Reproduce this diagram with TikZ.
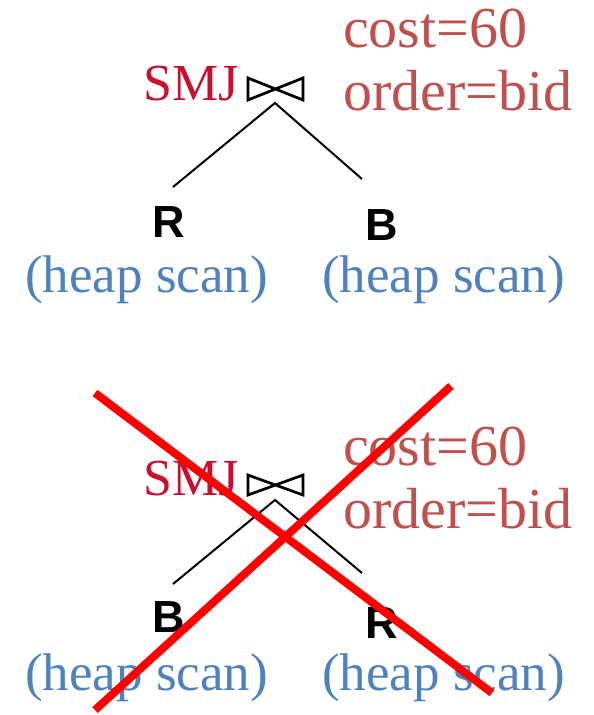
\documentclass[tikz,border=0pt]{standalone}
\usepackage{fontspec}
\setmainfont{Liberation Serif}
\newfontfamily\sansf{Liberation Sans}
\definecolor{smjred}{RGB}{200,16,46}
\definecolor{costred}{RGB}{192,80,77}
\definecolor{scanblue}{RGB}{79,129,189}
\begin{document}
\begin{tikzpicture}[x=1pt,y=-1pt,
  smj/.style={text=smjred, font=\fontsize{52}{60}\selectfont, anchor=base west, inner sep=0pt},
  cost/.style={text=costred, font=\fontsize{58}{60}\selectfont, anchor=base west, inner sep=0pt},
  rel/.style={font=\sansf\bfseries\fontsize{45}{50}\selectfont, anchor=base west, inner sep=0pt},
  scan/.style={text=scanblue, font=\fontsize{53}{60}\selectfont, anchor=base west, inner sep=0pt},
  bowtie/.style={line width=2.7pt, line join=miter},
  edge/.style={line width=2pt},
  cross/.style={draw=red, line width=8pt}]
\useasboundingbox (0,0) rectangle (594,715);
% ---------- top plan ----------
\node[smj] (smj1) at (143,100) {SMJ};
\coordinate (bt1a) at (248,78);
\coordinate (bt1b) at (248,100);
\coordinate (bt1c) at (303,78);
\coordinate (bt1d) at (303,100);
\draw[bowtie] (bt1a) -- (bt1b) -- (bt1c) -- (bt1d) -- cycle;
\node[cost] (cost1) at (343,47) {cost=60};
\node[cost] (ord1) at (343,110) {order=bid};
\coordinate (apex1) at (275,103);
\coordinate (l1) at (173,187);
\coordinate (r1) at (362,179);
\draw[edge] (l1) -- (apex1) -- (r1);
\node[rel] (R1) at (152,237) {R};
\node[rel] (B1) at (365,240) {B};
\node[scan] (s1a) at (25,292) {(heap scan)};
\node[scan] (s1b) at (322,292) {(heap scan)};
% ---------- bottom plan ----------
\node[smj] (smj2) at (143,495) {SMJ};
\coordinate (bt2a) at (248,475);
\coordinate (bt2b) at (248,495);
\coordinate (bt2c) at (303,475);
\coordinate (bt2d) at (303,495);
\draw[bowtie] (bt2a) -- (bt2b) -- (bt2c) -- (bt2d) -- cycle;
\node[cost] (cost2) at (343,465) {cost=60};
\node[cost] (ord2) at (343,528) {order=bid};
\coordinate (apex2) at (275,500);
\coordinate (l2) at (173,584);
\coordinate (r2) at (362,573);
\draw[edge] (l2) -- (apex2) -- (r2);
\node[rel] (B2) at (152,632) {B};
\node[rel] (R2) at (365,638) {R};
\node[scan] (s2a) at (25,690) {(heap scan)};
\node[scan] (s2b) at (322,690) {(heap scan)};
% ---------- red cross ----------
\coordinate (x1a) at (95,393);
\coordinate (x1b) at (492,693);
\coordinate (x2a) at (451,386);
\coordinate (x2b) at (95,710);
\draw[cross] (x1a) -- (x1b);
\draw[cross] (x2a) -- (x2b);
\end{tikzpicture}
\end{document}
